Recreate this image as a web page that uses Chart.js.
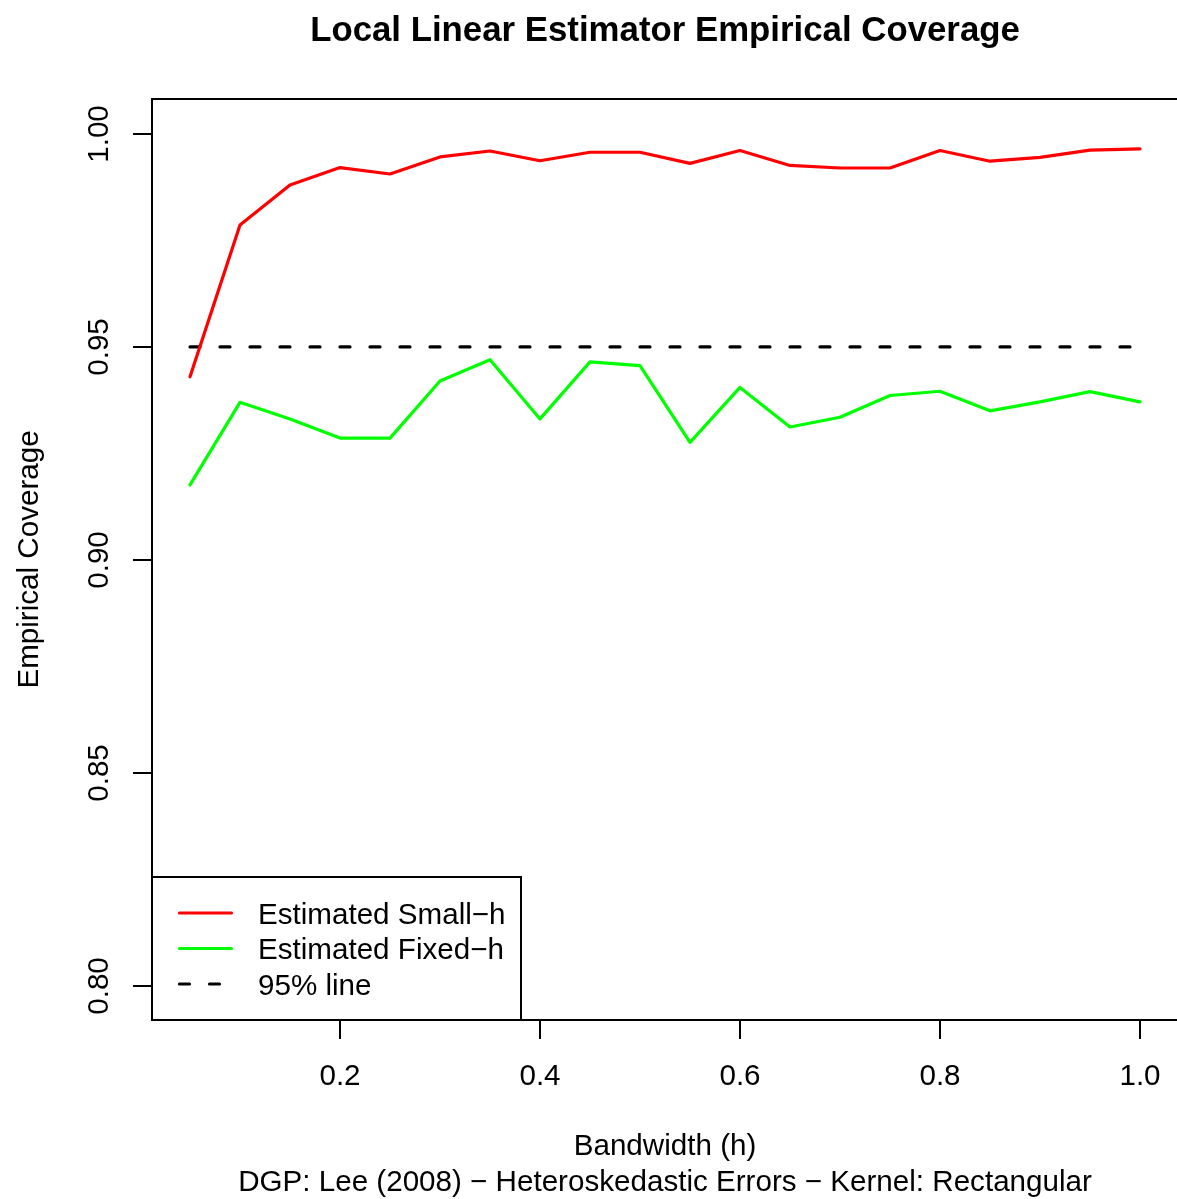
<!DOCTYPE html>
<html><head><meta charset="utf-8">
<script src="https://cdn.jsdelivr.net/npm/chart.js@4/dist/chart.umd.min.js"></script>
<style>html,body{margin:0;padding:0;background:#fff;overflow:hidden}#wrap{width:1177px;height:1199px;position:relative}</style>
</head><body><div id="wrap"><canvas id="c" width="1177" height="1199"></canvas></div>
<script>
const bandwidths = [0.05,0.10,0.15,0.20,0.25,0.30,0.35,0.40,0.45,0.50,0.55,0.60,0.65,0.70,0.75,0.80,0.85,0.90,0.95,1.00];
const smallH = [0.943,0.9786,0.988,0.9921,0.9906,0.9946,0.996,0.9937,0.9957,0.9957,0.9931,0.9961,0.9926,0.992,0.992,0.9961,0.9936,0.9945,0.9962,0.9965];
const fixedH = [0.9176,0.937,0.9331,0.9286,0.9286,0.942,0.947,0.9331,0.9465,0.9456,0.9276,0.9405,0.9312,0.9335,0.9386,0.9396,0.935,0.9371,0.9395,0.9371];
const refLevel = 0.95;
const xTicks = [0.2,0.4,0.6,0.8,1.0];
const xTickLabels = ["0.2","0.4","0.6","0.8","1.0"];
const yTicks = [0.80,0.85,0.90,0.95,1.00];
const yTickLabels = ["0.80","0.85","0.90","0.95","1.00"];
const seriesLabels = ["Estimated Small\u2212h","Estimated Fixed\u2212h","95% line"];
const titleText = "Local Linear Estimator Empirical Coverage";
const xTitle = "Bandwidth (h)";
const subTitle = "DGP: Lee (2008) \u2212 Heteroskedastic Errors \u2212 Kernel: Rectangular";
const yTitle = "Empirical Coverage";

const FONT = "'Liberation Sans', Arial, Helvetica, sans-serif";
const FS = 29.6;

const pts = (xs, ys) => xs.map((x, i) => ({x: x, y: ys[i]}));
const refPts = [{x: bandwidths[0], y: refLevel}, {x: bandwidths[bandwidths.length - 1], y: refLevel}];

const rBase = {
  id: 'rBase',
  afterDraw(chart) {
    const ctx = chart.ctx, a = chart.chartArea;
    const xs = chart.scales.x, ys = chart.scales.y;
    ctx.save();
    ctx.strokeStyle = '#000'; ctx.fillStyle = '#000'; ctx.lineWidth = 2;
    ctx.setLineDash([]);
    ctx.beginPath();
    ctx.moveTo(a.right + 5, a.top); ctx.lineTo(a.left, a.top);
    ctx.lineTo(a.left, a.bottom); ctx.lineTo(a.right + 5, a.bottom);
    ctx.stroke();
    ctx.font = FS + 'px ' + FONT;
    ctx.textAlign = 'center'; ctx.textBaseline = 'alphabetic';
    xTicks.forEach((v, i) => {
      const px = Math.round(xs.getPixelForValue(v));
      ctx.beginPath(); ctx.moveTo(px, a.bottom); ctx.lineTo(px, a.bottom + 19); ctx.stroke();
      ctx.fillText(xTickLabels[i], px, 1085);
    });
    yTicks.forEach((v, i) => {
      const py = Math.round(ys.getPixelForValue(v));
      ctx.beginPath(); ctx.moveTo(a.left, py); ctx.lineTo(a.left - 19, py); ctx.stroke();
      ctx.save(); ctx.translate(108, py); ctx.rotate(-Math.PI / 2);
      ctx.textAlign = 'center'; ctx.fillText(yTickLabels[i], 0, 0); ctx.restore();
    });
    const cx = xs.getPixelForValue(0.525);
    ctx.font = 'bold 34.8px ' + FONT;
    ctx.fillText(titleText, cx, 41);
    ctx.font = FS + 'px ' + FONT;
    ctx.fillText(xTitle, cx, 1155);
    ctx.fillText(subTitle, cx, 1191);
    ctx.save(); ctx.translate(38, (a.top + a.bottom) / 2); ctx.rotate(-Math.PI / 2);
    ctx.fillText(yTitle, 0, 0); ctx.restore();
    const lx0 = a.left, ly0 = 877, lx1 = 521, ly1 = a.bottom;
    ctx.beginPath();
    ctx.moveTo(lx0, ly0); ctx.lineTo(lx1, ly0); ctx.lineTo(lx1, ly1);
    ctx.stroke();
    const rows = [913, 948.5, 984];
    chart.data.datasets.forEach((ds, i) => {
      ctx.save();
      ctx.strokeStyle = ds.borderColor; ctx.lineWidth = ds.borderWidth;
      ctx.lineCap = 'round';
      ctx.setLineDash(ds.borderDash || []);
      ctx.beginPath(); ctx.moveTo(179.5, rows[i]); ctx.lineTo(231.5, rows[i]); ctx.stroke();
      ctx.restore();
      ctx.textAlign = 'left'; ctx.fillStyle = '#000';
      ctx.fillText(ds.label, 258, rows[i] + 10.5);
    });
    ctx.restore();
  }
};

new Chart(document.getElementById('c'), {
  type: 'line',
  data: {
    datasets: [
      {label: seriesLabels[0], data: pts(bandwidths, smallH), borderColor: '#FF0000', borderWidth: 3.2, borderJoinStyle: 'round', borderCapStyle: 'round'},
      {label: seriesLabels[1], data: pts(bandwidths, fixedH), borderColor: '#00FF00', borderWidth: 3.2, borderJoinStyle: 'round', borderCapStyle: 'round'},
      {label: seriesLabels[2], data: refPts, borderColor: '#000000', borderWidth: 3.2, borderDash: [10, 20], borderCapStyle: 'round'}
    ]
  },
  options: {
    responsive: false, animation: false,
    layout: {padding: {left: 152, top: 99, right: 0, bottom: 179}},
    elements: {point: {radius: 0, hoverRadius: 0}, line: {tension: 0, fill: false}},
    scales: {
      x: {type: 'linear', min: 0.012, max: 1.037, display: false},
      y: {type: 'linear', min: 0.792, max: 1.0082, display: false}
    },
    plugins: {legend: {display: false}, tooltip: {enabled: false}, title: {display: false}}
  },
  plugins: [rBase]
});
</script>
</body></html>
